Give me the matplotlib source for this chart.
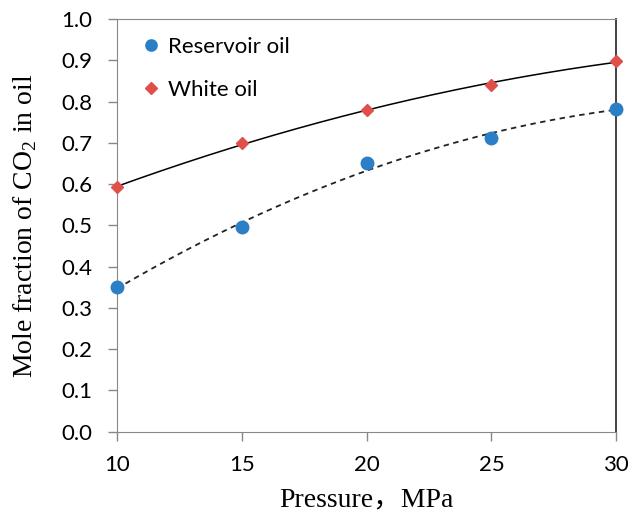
import numpy as np
import matplotlib
matplotlib.use("Agg")
import matplotlib.pyplot as plt

pressure = [10, 15, 20, 25, 30]
reservoir_oil = [0.35, 0.495, 0.65, 0.712, 0.783]
white_oil = [0.592, 0.70, 0.78, 0.84, 0.898]

blue = "#2b7fc6"
red = "#e0504a"
tick_font = "Lato"
label_font = ["Liberation Serif", "Noto Sans CJK SC"]

fig = plt.figure(figsize=(6.32, 5.14), dpi=100)
ax = fig.add_axes([0.185, 0.16, 0.79, 0.803])

# quadratic trendlines like excel
xs = np.linspace(10, 30, 200)
fit_w = np.polyfit(pressure, white_oil, 2)
fit_r = np.polyfit(pressure, reservoir_oil, 2)
ax.plot(xs, np.polyval(fit_w, xs), color="black", lw=1.1, zorder=2)
ax.plot(xs, np.polyval(fit_r, xs), color="#222222", lw=1.3, ls=(0, (3, 2.5)), zorder=2)

ax.plot(pressure, reservoir_oil, "o", color=blue, ms=9, label="Reservoir oil", zorder=3, clip_on=False)
ax.plot(pressure, white_oil, "D", color=red, ms=6.5, label="White oil", zorder=3, clip_on=False)

ax.set_xlim(10, 30)
ax.set_ylim(0, 1.0)
ax.set_xticks(pressure)
ax.set_yticks(np.arange(0, 1.01, 0.1))
ax.set_yticklabels(["%.1f" % v for v in np.arange(0, 1.01, 0.1)])

for lab in ax.get_xticklabels() + ax.get_yticklabels():
    lab.set_fontfamily(tick_font)
    lab.set_fontsize(16)
ax.tick_params(axis="x", direction="out", length=6.5, width=1, color="#888888", pad=10)
ax.tick_params(axis="y", direction="out", length=6.5, width=1, color="#888888", pad=11)

for side in ["left", "bottom", "top"]:
    ax.spines[side].set_color("#888888")
ax.spines["right"].set_color("#333333")
ax.spines["right"].set_linewidth(1.3)

ax.set_xlabel("Pressure，MPa", family=label_font, fontsize=20, labelpad=9)
ax.set_ylabel("Mole fraction of CO$_\\mathregular{2}$ in oil", family=label_font, fontsize=20, labelpad=16)

ax.legend(loc="upper left", frameon=False, prop={"family": tick_font, "size": 16},
          handletextpad=0.0, labelspacing=1.05, borderaxespad=0.4, handlelength=1.5,
          markerscale=0.9)

fig.savefig("out.png", dpi=100)
